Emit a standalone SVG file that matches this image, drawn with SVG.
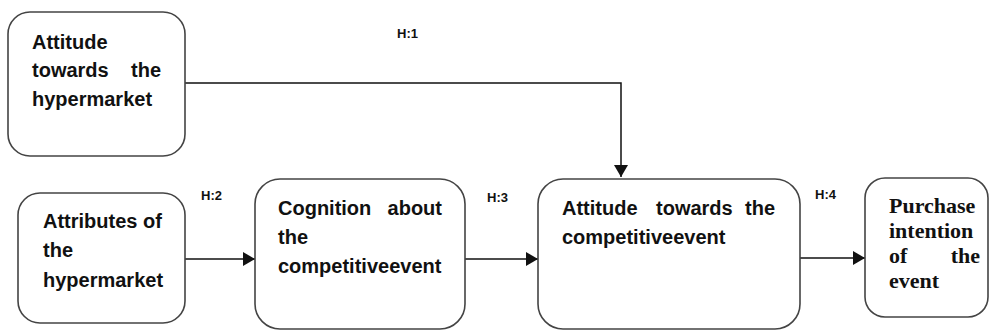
<svg xmlns="http://www.w3.org/2000/svg" width="990" height="330" viewBox="0 0 990 330">
<style>
.box{fill:#fff;stroke:#444;stroke-width:1.6}
.t{font-family:"Liberation Sans",Arial,sans-serif;font-weight:bold;font-size:20px;fill:#111}
.s{font-family:"Liberation Serif","Times New Roman",serif;font-weight:bold;font-size:22px;fill:#111}
.h{font-family:"Liberation Sans",Arial,sans-serif;font-weight:bold;font-size:13px;fill:#111}
.c{fill:none;stroke:#111;stroke-width:1.5}
</style>
<defs>
<marker id="arr" markerUnits="userSpaceOnUse" markerWidth="12" markerHeight="14" refX="12" refY="7" orient="auto">
<path d="M0,0 L12,7 L0,14 Z" fill="#111"/>
</marker>
</defs>
<g id="connectors">
<path class="c" d="M185,83 H621 V177" marker-end="url(#arr)"/>
<path class="c" d="M185,259 H255" marker-end="url(#arr)"/>
<path class="c" d="M465,259 H538" marker-end="url(#arr)"/>
<path class="c" d="M800,258 H865" marker-end="url(#arr)"/>
<text class="h" x="397" y="38">H:1</text>
<text class="h" x="201" y="200">H:2</text>
<text class="h" x="487" y="202">H:3</text>
<text class="h" x="815" y="199">H:4</text>
</g>
<g id="n1">
<rect class="box" x="8" y="12" width="177" height="144" rx="22"/>
<text class="t" x="32" y="49">Attitude</text>
<text class="t" x="32" y="77">towards</text>
<text class="t" x="161" y="77" text-anchor="end">the</text>
<text class="t" x="32" y="106">hypermarket</text>
</g>
<g id="n2">
<rect class="box" x="18" y="193" width="167" height="130" rx="22"/>
<text class="t" x="43" y="228">Attributes of</text>
<text class="t" x="43" y="257">the</text>
<text class="t" x="43" y="287">hypermarket</text>
</g>
<g id="n3">
<rect class="box" x="255" y="179" width="210" height="150" rx="25"/>
<text class="t" x="278" y="215">Cognition</text>
<text class="t" x="442" y="215" text-anchor="end">about</text>
<text class="t" x="278" y="244">the</text>
<text class="t" x="278" y="273">competitiveevent</text>
</g>
<g id="n4">
<rect class="box" x="538" y="179" width="262" height="150" rx="25"/>
<text class="t" x="562" y="215">Attitude</text>
<text class="t" x="656" y="215">towards</text>
<text class="t" x="775" y="215" text-anchor="end">the</text>
<text class="t" x="562" y="244">competitiveevent</text>
</g>
<g id="n5">
<rect class="box" x="865" y="178" width="123" height="139" rx="20"/>
<text class="s" x="889" y="213">Purchase</text>
<text class="s" x="889" y="238">intention</text>
<text class="s" x="889" y="263">of</text>
<text class="s" x="980" y="263" text-anchor="end">the</text>
<text class="s" x="889" y="288">event</text>
</g>
</svg>
